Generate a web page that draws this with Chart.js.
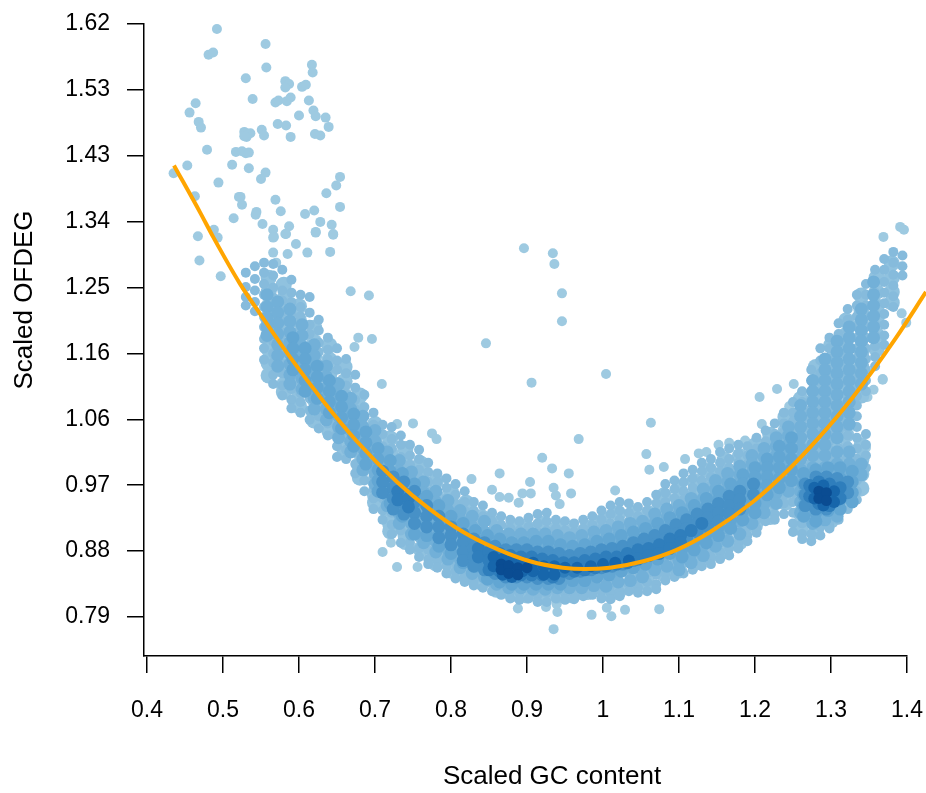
<!DOCTYPE html>
<html>
<head>
<meta charset="utf-8">
<script src="https://cdn.jsdelivr.net/npm/chart.js@4"></script>
<style>
  body { margin: 0; background: #fff; }
</style>
</head>
<body>
<canvas id="chart" width="926" height="793"></canvas>
<script>
const xTicks = [0.4, 0.5, 0.6, 0.7, 0.8, 0.9, 1, 1.1, 1.2, 1.3, 1.4];
const xTickLabels = ["0.4", "0.5", "0.6", "0.7", "0.8", "0.9", "1", "1.1", "1.2", "1.3", "1.4"];
const yTicks = [0.79, 0.8822, 0.9744, 1.0667, 1.1589, 1.2511, 1.3433, 1.4356, 1.5278, 1.62];
const yTickLabels = ["0.79", "0.88", "0.97", "1.06", "1.16", "1.25", "1.34", "1.43", "1.53", "1.62"];

// Fitted curve
const curveX = [0.4355, 0.47, 0.487, 0.522, 0.549, 0.588, 0.632, 0.676, 0.729, 0.772, 0.816, 0.861, 0.904, 0.947, 0.976, 1.009, 1.053, 1.097, 1.141, 1.197, 1.241, 1.284, 1.329, 1.385, 1.425];
const curveY = [1.422, 1.356, 1.322, 1.257, 1.214, 1.154, 1.092, 1.036, 0.979, 0.941, 0.909, 0.885, 0.868, 0.859, 0.857, 0.859, 0.868, 0.884, 0.909, 0.951, 0.993, 1.041, 1.098, 1.18, 1.245];

// Lone points away from the band, [x, y]
const loosePoints = [
  [.476,1.638],[.492,1.613],[.481,1.577],[.487,1.58],[.556,1.592],[.557,1.559],[.53,1.544],[.617,1.563],[.618,1.552],
  [.582,1.54],[.587,1.536],[.582,1.531],[.604,1.532],[.609,1.535],[.539,1.515],[.569,1.51],[.573,1.513],[.584,1.512],
  [.589,1.517],[.613,1.513],[.619,1.499],[.622,1.491],[.6,1.492],[.635,1.489],[.639,1.476],[.464,1.509],[.456,1.496],
  [.468,1.483],[.471,1.475],[.572,1.48],[.583,1.478],[.589,1.462],[.621,1.466],[.628,1.464],[.528,1.469],[.536,1.467],
  [.531,1.462],[.528,1.463],[.551,1.472],[.554,1.464],[.479,1.444],[.517,1.441],[.525,1.442],[.53,1.439],[.534,1.44],
  [.453,1.422],[.435,1.411],[.512,1.423],[.534,1.418],[.556,1.412],[.55,1.403],[.494,1.398],[.654,1.406],[.649,1.394],
  [.636,1.383],[.463,1.379],[.521,1.378],[.523,1.378],[.525,1.367],[.569,1.374],[.576,1.358],[.62,1.359],[.608,1.354],
  [.654,1.364],[.544,1.357],[.543,1.353],[.514,1.348],[.552,1.34],[.628,1.343],[.643,1.339],[.622,1.329],[.645,1.325],
  [.566,1.332],[.587,1.337],[.582,1.326],[.567,1.322],[.488,1.332],[.467,1.323],[.493,1.321],[.469,1.289],[.497,1.267],
  [.566,1.321],[.583,1.326],[.622,1.328],[.645,1.326],[.596,1.312],[.566,1.3],[.585,1.298],[.611,1.3],[.641,1.301],
  [.57,1.286],[.668,1.246],[.692,1.24],[.678,1.181],[.696,1.179],[.673,1.168],[.709,1.116],
  [.896,1.306],[.934,1.299],[.936,1.284],[.946,1.243],[.946,1.204],[.846,1.173],[.906,1.118],[1.004,1.13],[1.063,1.062],[.968,1.039],
  [1.425,1.418],[1.369,1.322],[1.391,1.336],[1.396,1.332],[1.411,1.33],[1.411,1.323],[1.414,1.306],[1.41,1.297],[1.418,1.288],[1.408,1.283],
  [1.393,1.215],[1.399,1.202],[1.368,1.123],
  [.729,1.06],[.75,1.061],[.775,1.047],[.781,1.039],[.92,1.013],[.933,.998],[.864,.991],[.827,.983],[.904,.979],[.955,.991],
  [.71,.881],[.729,.86],[.756,.86],[.721,.894],[.718,.907],[.888,.802],[.94,.797],[.935,.773],[.925,.804],[.939,.808],
  [.854,.968],[.864,.958],[.876,.957],[.889,.95],[.894,.963],[.905,.963],[.935,.971],[.938,.96],[.943,.948],
  [1.057,1.018],[1.061,.996],[1.08,1],[1.016,.967],[.958,.963],[1.108,1.011],[1.126,1.019],[1.136,1.021],[1.152,1.031],[1.166,1.034],[1.187,1.037],
  [1.074,.801],[1.029,.8],[1.011,.791],[.985,.793],[1.005,.803],
  [1.206,1.098],[1.229,1.109],[1.251,1.116],[1.209,1.06],[1.245,1.085],[1.348,1.098],[1.356,1.108],[1.368,1.122],[1.346,1.027],[1.335,.969]
];

// Band read column by column: first number is x, the rest are y values at that x
const bandFill = [
  [.56,1.265,1.245,1.225,1.205,1.185,1.165,1.145,1.128],[.58,1.255,1.235,1.215,1.195,1.175,1.155,1.135,1.115,1.105],
  [.6,1.225,1.205,1.185,1.165,1.145,1.125,1.105,1.085],[.62,1.195,1.175,1.155,1.135,1.115,1.095,1.075,1.065],
  [.64,1.17,1.15,1.13,1.11,1.09,1.07,1.05],[.66,1.14,1.12,1.1,1.08,1.06,1.04,1.02],
  [.68,1.1,1.08,1.06,1.04,1.02,1,.985],[.7,1.06,1.04,1.02,1,.98,.96,.95],
  [.72,1.04,1.02,1,.98,.96,.94,.92,.91],[.74,1.025,1.005,.985,.965,.945,.925,.905,.895],
  [.76,1.005,.985,.965,.945,.925,.905,.885],[.78,.98,.96,.94,.92,.9,.88,.865],
  [.8,.965,.945,.925,.905,.885,.865,.855],[.82,.95,.93,.91,.89,.87,.85,.846],
  [.84,.93,.91,.89,.87,.85,.838],[.86,.92,.9,.88,.86,.84,.828],
  [.88,.915,.895,.875,.855,.835,.822],[.9,.915,.895,.875,.855,.835,.82],
  [.92,.92,.9,.88,.86,.84,.818],[.94,.915,.895,.875,.855,.835,.82],
  [.96,.91,.89,.87,.85,.83,.82],[.98,.915,.895,.875,.855,.835,.825],
  [1,.925,.905,.885,.865,.845,.825],[1.02,.935,.915,.895,.875,.855,.835,.825],
  [1.04,.935,.915,.895,.875,.855,.835],[1.06,.935,.915,.895,.875,.855,.835],
  [1.08,.96,.94,.92,.9,.88,.86,.85],[1.1,.97,.95,.93,.91,.89,.87,.855],
  [1.12,.98,.96,.94,.92,.9,.88,.865],[1.14,.995,.975,.955,.935,.915,.895,.875],
  [1.16,1.01,.99,.97,.95,.93,.91,.89,.882],[1.18,1.015,.995,.975,.955,.935,.915,.895],
  [1.2,1.03,1.01,.99,.97,.95,.93,.918],[1.22,1.045,1.025,1.005,.985,.965,.945,.93],
  [1.24,1.07,1.05,1.03,1.01,.99,.97,.95],[1.26,1.095,1.075,1.055,1.035,1.015,.995,.975,.955,.935,.915],
  [1.28,1.14,1.12,1.1,1.08,1.06,1.04,1.02,1,.98,.96,.94,.92,.91],
  [1.3,1.17,1.15,1.13,1.11,1.09,1.07,1.05,1.03,1.01,.99,.97,.95,.93,.925],
  [1.32,1.205,1.185,1.165,1.145,1.125,1.105,1.085,1.065,1.045,1.025,1.005,.985,.965,.95],
  [1.34,1.24,1.22,1.2,1.18,1.16,1.14,1.12,1.1,1.03,1.01,.99,.97],
  [1.36,1.265,1.245,1.225,1.205,1.185,1.165],[1.38,1.285,1.265,1.245,1.23]
];
const bandOuter = [
  [.53,1.272,1.252,1.238,1.226],[.542,1.281,1.263,1.247,1.231,1.218],
  [.554,1.286,1.272,1.256,1.241,1.224,1.21,1.196,1.179,1.166,1.15],
  [.566,1.284,1.268,1.251,1.237,1.221,1.203,1.19,1.176,1.159,1.146,1.129,1.116],
  [.578,1.276,1.247,1.233,1.217,1.204,1.188,1.175,1.161,1.144,1.131,1.114,1.1],
  [.59,1.262,1.244,1.231,1.214,1.201,1.186,1.169,1.156,1.139,1.126,1.109,1.094,1.082],
  [.602,1.241,1.224,1.211,1.194,1.181,1.164,1.151,1.134,1.121,1.104,1.091,1.076],
  [.614,1.238,1.216,1.199,1.186,1.169,1.156,1.139,1.126,1.109,1.096,1.079,1.066],
  [.626,1.206,1.191,1.174,1.161,1.144,1.131,1.114,1.101,1.084,1.071,1.054],
  [.638,1.181,1.164,1.151,1.134,1.121,1.104,1.091,1.074,1.061,1.044],
  [.65,1.166,1.149,1.136,1.119,1.106,1.089,1.076,1.059,1.046,1.029,1.014],
  [.662,1.151,1.131,1.114,1.101,1.084,1.071,1.054,1.041,1.024,1.011],
  [.674,1.129,1.111,1.094,1.081,1.064,1.051,1.034,1.021,1.004,.991],
  [.686,1.101,1.084,1.071,1.054,1.041,1.024,1.011,.994,.981,.966],
  [.698,1.076,1.059,1.046,1.029,1.016,.999,.986,.969,.956,.941],
  [.71,1.059,1.046,1.029,1.016,.999,.986,.969,.956,.939,.926],
  [.722,1.056,1.039,1.026,1.009,.996,.979,.966,.949,.936,.919,.906],
  [.734,1.044,1.031,1.014,1.001,.984,.971,.954,.941,.924,.911,.894],
  [.746,1.031,1.016,1.003,.989,.976,.961,.949,.934,.921,.906,.894,.884],
  [.758,1.024,1.011,.996,.984,.969,.956,.941,.929,.914,.901,.886,.874],
  [.77,1.006,.993,.979,.966,.951,.939,.924,.911,.896,.884,.871,.864],
  [.782,.991,.979,.964,.951,.936,.924,.909,.896,.881,.869,.859],
  [.794,.984,.971,.956,.944,.929,.916,.901,.889,.874,.861,.851],
  [.806,.976,.961,.949,.934,.921,.906,.894,.879,.866,.854,.844],
  [.818,.966,.951,.939,.924,.911,.896,.884,.871,.859,.846,.839],
  [.83,.951,.939,.926,.914,.901,.889,.876,.864,.851,.841,.834],
  [.842,.946,.931,.919,.906,.894,.881,.869,.856,.844,.831],
  [.854,.936,.924,.911,.899,.886,.874,.861,.849,.836,.826],
  [.866,.931,.919,.906,.894,.881,.869,.856,.844,.831,.821],
  [.878,.926,.914,.901,.889,.876,.864,.851,.839,.826,.816],
  [.89,.924,.911,.899,.886,.874,.861,.849,.836,.824,.814],
  [.902,.929,.916,.904,.891,.879,.866,.854,.841,.829,.816],
  [.914,.934,.921,.909,.896,.884,.871,.859,.846,.834,.821,.811],
  [.926,.936,.924,.911,.899,.886,.874,.861,.849,.836,.824,.811],
  [.938,.926,.914,.901,.889,.876,.864,.851,.839,.826,.816],
  [.95,.924,.911,.899,.886,.874,.861,.849,.836,.824,.814],
  [.962,.921,.909,.896,.884,.871,.859,.846,.834,.821,.815],
  [.974,.926,.914,.901,.889,.876,.864,.851,.839,.826,.819],
  [.986,.931,.919,.906,.894,.881,.869,.856,.844,.831,.821],
  [.998,.939,.926,.914,.901,.889,.876,.864,.851,.839,.826,.816],
  [1.01,.946,.934,.921,.909,.896,.884,.871,.859,.846,.834,.824,.815],
  [1.022,.951,.939,.926,.914,.901,.889,.876,.864,.851,.839,.826,.819],
  [1.034,.949,.936,.924,.911,.899,.886,.874,.861,.849,.836,.826],
  [1.046,.944,.931,.919,.906,.894,.881,.869,.856,.844,.831,.824],
  [1.058,.951,.939,.926,.914,.901,.889,.876,.864,.851,.839,.826],
  [1.07,.961,.949,.936,.924,.911,.899,.886,.874,.861,.849,.836,.829],
  [1.082,.976,.964,.951,.939,.926,.914,.901,.889,.876,.864,.851,.841],
  [1.094,.981,.969,.956,.944,.931,.919,.906,.894,.881,.869,.856,.846],
  [1.106,.991,.979,.966,.954,.941,.929,.916,.904,.891,.879,.866,.851],
  [1.118,.996,.984,.971,.959,.946,.934,.921,.909,.896,.884,.871,.856],
  [1.13,1.006,.994,.981,.969,.956,.944,.931,.919,.906,.894,.881,.869,.861],
  [1.142,1.011,.999,.986,.974,.961,.949,.936,.924,.911,.899,.886,.874,.864],
  [1.154,1.021,1.006,.994,.981,.969,.956,.944,.931,.919,.906,.894,.881,.871],
  [1.166,1.026,1.011,.999,.986,.974,.961,.949,.936,.924,.911,.899,.886,.876],
  [1.178,1.031,1.019,1.006,.994,.981,.969,.956,.944,.931,.919,.906,.894,.886],
  [1.19,1.029,1.016,1.004,.991,.979,.966,.954,.941,.929,.916,.904,.896],
  [1.202,1.041,1.026,1.014,1.001,.989,.976,.964,.951,.939,.926,.914,.908],
  [1.214,1.051,1.036,1.024,1.011,.999,.986,.974,.961,.949,.936,.924],
  [1.226,1.061,1.046,1.034,1.021,1.009,.996,.984,.971,.959,.946,.934,.926],
  [1.238,1.076,1.061,1.049,1.036,1.024,1.011,.999,.986,.974,.961,.949,.934],
  [1.25,1.091,1.076,1.064,1.051,1.039,1.026,1.014,1.001,.989,.976,.964,.951,.936,.921,.909],
  [1.262,1.106,1.091,1.079,1.066,1.054,1.041,1.029,1.016,1.004,.991,.979,.966,.951,.936,.921,.906,.899],
  [1.274,1.136,1.121,1.106,1.094,1.081,1.069,1.056,1.044,1.031,1.019,1.006,.994,.979,.964,.949,.934,.921,.906,.896],
  [1.286,1.166,1.149,1.131,1.119,1.106,1.094,1.081,1.069,1.056,1.044,1.031,1.019,1.006,.991,.976,.961,.946,.931,.916,.904],
  [1.298,1.181,1.166,1.151,1.136,1.124,1.111,1.099,1.086,1.074,1.061,1.049,1.036,1.024,1.011,.996,.981,.966,.951,.936,.921,.914],
  [1.31,1.201,1.186,1.171,1.156,1.141,1.126,1.114,1.101,1.089,1.076,1.064,1.051,1.039,1.026,1.011,.996,.981,.966,.951,.936,.926],
  [1.322,1.221,1.206,1.191,1.176,1.161,1.146,1.131,1.119,1.106,1.094,1.081,1.069,1.056,1.044,1.029,1.014,.999,.984,.969,.954,.941],
  [1.334,1.241,1.226,1.211,1.196,1.181,1.166,1.151,1.136,1.124,1.111,1.099,1.086,1.071,1.056,1.041,1.026,1.011,.996,.981,.966,.954],
  [1.346,1.256,1.241,1.226,1.211,1.196,1.181,1.166,1.151,1.136,1.121,1.106,1.046,1.031,1.016,.999],
  [1.358,1.276,1.259,1.244,1.229,1.214,1.199,1.184,1.169,1.154,1.141],
  [1.37,1.291,1.276,1.259,1.244,1.229,1.214,1.199,1.184,1.171],
  [1.382,1.301,1.286,1.269,1.254,1.239,1.224],[1.394,1.296,1.281,1.268]
];
const bandLight = [
  [.558,1.241,1.224,1.209,1.196,1.184],[.572,1.231,1.216,1.201,1.186,1.171,1.156,1.141],
  [.588,1.221,1.204,1.189,1.174,1.159,1.144,1.129,1.116],[.604,1.199,1.184,1.169,1.154,1.139,1.124,1.109],
  [.62,1.171,1.156,1.141,1.126,1.111,1.096,1.081],[.636,1.141,1.126,1.111,1.096,1.081,1.066],
  [.652,1.116,1.101,1.086,1.071,1.056,1.041],[.668,1.096,1.081,1.066,1.051,1.036,1.021],
  [.684,1.071,1.056,1.041,1.026,1.011,.996],[.7,1.051,1.036,1.021,1.006,.991,.976],
  [.716,1.021,1.006,.991,.976,.961,.946],[.732,1.009,.994,.979,.964,.949,.934,.921],
  [.748,.993,.979,.964,.949,.934,.921,.906],[.764,.979,.964,.949,.934,.919,.906,.894],
  [.78,.966,.951,.936,.921,.909,.896,.881],[.796,.953,.939,.926,.911,.899,.884,.871],
  [.812,.939,.926,.911,.899,.884,.871,.859],[.828,.931,.916,.904,.889,.876,.864,.851],
  [.844,.924,.909,.896,.884,.871,.859,.846],[.86,.911,.899,.886,.874,.861,.849,.836],
  [.876,.906,.894,.881,.869,.856,.844,.831],[.892,.906,.894,.881,.869,.856,.844,.831],
  [.908,.906,.894,.881,.869,.856,.844,.829],[.924,.906,.894,.881,.869,.856,.844,.829],
  [.94,.904,.891,.879,.866,.854,.841,.831],[.956,.901,.889,.876,.864,.851,.839,.831],
  [.972,.904,.891,.879,.866,.854,.841,.831],[.988,.909,.896,.884,.871,.859,.846,.834],
  [1.004,.911,.899,.886,.874,.861,.849,.833],[1.02,.916,.904,.891,.879,.866,.854,.839],
  [1.036,.921,.909,.896,.884,.871,.859,.841],[1.052,.924,.911,.899,.886,.874,.861,.846],
  [1.068,.934,.921,.909,.896,.884,.871,.856],[1.084,.941,.929,.916,.904,.891,.879,.861],
  [1.1,.946,.934,.921,.909,.896,.884,.869,.856],[1.116,.956,.944,.931,.919,.906,.894,.879,.866],
  [1.132,.969,.956,.944,.931,.919,.906,.891,.876],[1.148,.981,.969,.956,.944,.931,.919,.904,.889],
  [1.164,.991,.979,.966,.954,.941,.929,.914,.896],[1.18,1.001,.989,.976,.964,.951,.939,.924,.906],
  [1.196,1.016,1.004,.991,.979,.966,.954,.939,.921],[1.212,1.026,1.014,1.001,.989,.976,.964,.949,.936],
  [1.228,1.041,1.029,1.016,1.004,.991,.979,.964,.949],[1.244,1.056,1.044,1.031,1.019,1.006,.994,.979,.966],
  [1.26,1.086,1.071,1.056,1.041,1.026,1.011,.996,.981,.966,.951,.936],[1.276,1.121,1.106,1.091,1.076,1.061,1.046,1.031,1.016,.999,.981,.966,.951,.936,.921],
  [1.292,1.151,1.136,1.121,1.106,1.091,1.076,1.061,1.046,1.031,1.016,.999,.984,.969,.954,.939,.926],
  [1.308,1.176,1.161,1.146,1.131,1.116,1.101,1.086,1.071,1.056,1.041,1.021,1.004,.989,.974,.959,.944,.931],
  [1.324,1.196,1.181,1.166,1.151,1.136,1.121,1.106,1.091,1.076,1.06,1.021,1.004,.989,.974,.959],
  [1.34,1.221,1.206,1.191,1.176,1.161,1.146,1.131,1.116,1.004,.989],[1.356,1.259,1.241,1.226,1.211,1.196,1.181]
];
const bandMid = [
  [.592,1.181,1.166,1.151,1.136],[.608,1.166,1.151,1.136,1.121,1.106],[.624,1.141,1.126,1.111,1.096],
  [.64,1.121,1.106,1.091,1.076],[.656,1.099,1.084,1.069,1.054],[.672,1.074,1.059,1.044,1.029],
  [.688,1.049,1.034,1.019,1.004],[.704,1.026,1.011,.996,.981,.966],[.72,1.009,.994,.979,.964,.949],
  [.736,.991,.976,.961,.946,.931],[.752,.976,.961,.946,.934,.921,.906],[.768,.959,.946,.931,.919,.904],
  [.784,.946,.931,.919,.904,.889],[.8,.931,.919,.906,.891,.879],[.816,.921,.906,.894,.881,.866],
  [.832,.911,.899,.886,.874,.861],[.848,.904,.891,.879,.866,.854,.843],[.864,.899,.886,.874,.861,.849,.839],
  [.88,.894,.881,.869,.856,.844,.836],[.896,.894,.881,.869,.856,.844,.836],[.912,.896,.884,.871,.859,.846,.836],
  [.928,.896,.884,.871,.859,.846,.836],[.944,.891,.879,.866,.854,.841,.836],[.96,.889,.876,.864,.851,.841],
  [.976,.891,.879,.866,.854,.841],[.992,.896,.884,.871,.859,.846],[1.008,.899,.886,.874,.861,.849],
  [1.024,.904,.891,.879,.866,.854],[1.04,.909,.896,.884,.871,.859],[1.056,.914,.901,.889,.876,.864],
  [1.072,.921,.909,.896,.884,.871],[1.088,.929,.916,.904,.891,.879],[1.104,.936,.924,.911,.899,.886,.874],
  [1.12,.946,.934,.921,.909,.896,.884],[1.136,.956,.944,.931,.919,.906,.894],[1.152,.966,.954,.941,.929,.916,.904],
  [1.168,.976,.964,.951,.939,.926,.914],[1.184,.989,.976,.964,.951,.939,.926],[1.2,.999,.986,.974,.961,.949,.936],
  [1.216,1.011,.999,.986,.974,.961],[1.232,1.029,1.014,.999,.984,.971],[1.248,1.041,1.026,1.011,.996,.981],
  [1.264,.991,.976,.961,.946,.931],[1.28,.996,.981,.966,.951,.936,.924],[1.296,.999,.984,.969,.954,.939],
  [1.312,.999,.984,.969,.954,.941],[1.328,.994,.979,.964,.951]
];
const bandDeep = [
  [.71,.994,.979,.964],[.724,.986,.971,.956,.941],[.738,.979,.964,.949,.934],[.752,.966,.951,.936,.921],
  [.768,.946,.931,.916],[.784,.931,.916,.901],[.8,.916,.904,.891],[.816,.906,.894,.881,.869],
  [.83,.899,.886,.874,.861],[.844,.894,.881,.869,.856],[.858,.889,.876,.864,.851],[.872,.884,.871,.859,.846],
  [.886,.884,.871,.859,.846],[.9,.884,.871,.859,.846],[.914,.881,.869,.856,.844],[.928,.881,.869,.856,.844],
  [.942,.879,.866,.854,.844],[.956,.876,.864,.851],[.97,.879,.866,.854],[.984,.881,.869,.856],
  [.998,.884,.871,.859],[1.012,.886,.874,.861],[1.026,.889,.876,.864],[1.04,.894,.881,.869],
  [1.054,.899,.886,.874],[1.068,.904,.891,.879],[1.082,.911,.899,.886],[1.096,.919,.906,.894],
  [1.11,.926,.914,.901],[1.124,.934,.921,.909],[1.138,.941,.929,.916],[1.152,.949,.936,.924],
  [1.166,.959,.946,.934],[1.18,.966,.954,.941],[1.198,.976,.961],
  [1.266,.976,.961,.946],[1.28,.986,.971,.956,.941],[1.294,.986,.971,.956,.941],[1.308,.984,.969,.954],[1.322,.979,.964]
];
const bandDark = [
  [.73,.966,.954],[.744,.956,.944],[.836,.886,.874],[.85,.881,.869,.856],[.864,.879,.866,.854],[.878,.876,.864,.851],
  [.892,.874,.861,.849],[.906,.874,.861,.849],[.92,.871,.859,.849],[.934,.869,.856,.846],[.948,.866,.854],
  [.962,.866,.854],[.976,.869,.856],[.99,.871,.859],[1.004,.874,.861],[1.018,.874,.864],[1.032,.879,.866],
  [1.046,.884,.871],[1.06,.886,.876],[1.074,.891,.879],[1.088,.899,.886],[1.102,.904,.894],[1.116,.911],[1.13,.921],
  [1.272,.974,.959],[1.284,.979,.964,.949],[1.298,.976,.961,.946],[1.312,.971,.956]
];
const bandDarker = [
  [.856,.874,.861],[.868,.871,.859,.849],[.88,.869,.856,.846],[.894,.866,.854],[.908,.866,.854],[.922,.861,.849],
  [.936,.861,.849],[.95,.859],[.966,.859],[.984,.861],[1,.864],[1.016,.866],[1.034,.869],
  [1.278,.971,.956],[1.29,.974,.959,.946],[1.304,.966,.951]
];
const bandCore = [
  [.866,.864,.856],[.876,.862,.851],[.888,.859,.849],[.9,.859],[1.284,.966,.956],[1.294,.964,.953]
];

const pointColors = ["#9ecae1", "#86bbdc", "#72b0d8", "#62a6d3", "#4791c7", "#2f7ebc", "#1766ab", "#0a4c92", "#073a75"];
const layerRadius = [5, 6.5, 6.5, 6.5, 6.5, 6, 5.5];

const bandLayers = [bandOuter, bandLight, bandMid, bandDeep, bandDark, bandDarker, bandCore];

// Turn [x, y, y, ...] columns into chart points
function columnsToPoints(columns) {
  return columns.flatMap(col => col.slice(1).map(y => ({ x: col[0], y: y })));
}

const datasets = [];
datasets.push({
  data: curveX.map((x, i) => ({ x: x, y: curveY[i] })),
  showLine: true,
  borderColor: "#ffa500",
  borderWidth: 4,
  pointRadius: 0,
  cubicInterpolationMode: "monotone",
  clip: false,
  order: 0
});
datasets.push({
  data: loosePoints.map(p => ({ x: p[0], y: p[1] })),
  backgroundColor: pointColors[0],
  borderWidth: 0,
  pointRadius: 5,
  clip: false,
  order: 10
});
// Wider marks behind the band so no white shows through it
datasets.push({
  data: columnsToPoints(bandFill),
  backgroundColor: "#90c2df",
  borderWidth: 0,
  pointRadius: 8,
  clip: false,
  order: 9
});
bandLayers.forEach((layer, i) => {
  datasets.push({
    data: columnsToPoints(layer),
    backgroundColor: pointColors[i + 1],
    borderWidth: 0,
    pointRadius: layerRadius[i],
    clip: false,
    order: 8 - i
  });
});

// The axis titles are not centred on the plot area, so place them by hand
const axisTitles = {
  id: "axisTitles",
  afterDraw(chart) {
    const ctx = chart.ctx;
    ctx.save();
    ctx.fillStyle = "#000";
    ctx.font = "26px 'Liberation Sans'";
    ctx.textAlign = "center";
    ctx.textBaseline = "middle";
    ctx.fillText("Scaled GC content", 552, 777);
    ctx.translate(25, 300);
    ctx.rotate(-Math.PI / 2);
    ctx.fillText("Scaled OFDEG", 0, 0);
    ctx.restore();
  }
};

new Chart(document.getElementById("chart"), {
  type: "scatter",
  data: { datasets: datasets },
  plugins: [axisTitles],
  options: {
    responsive: false,
    animation: false,
    layout: { padding: { top: 24, left: 0, right: 19, bottom: 0 } },
    plugins: { legend: { display: false }, tooltip: { enabled: false } },
    scales: {
      x: {
        type: "linear",
        min: 0.39605,
        max: 1.4,
        afterBuildTicks: scale => { scale.ticks = xTicks.map(v => ({ value: v })); },
        afterFit: scale => {
          scale.height = 137;
          scale.paddingLeft = 0;
          scale.paddingRight = 0;
        },
        border: { color: "#000", width: 1.5 },
        grid: { drawOnChartArea: false, drawTicks: true, tickLength: 17, color: "#000", lineWidth: 1.5 },
        ticks: {
          color: "#000",
          padding: 24,
          maxRotation: 0,
          autoSkip: false,
          font: { family: "'Liberation Sans'", size: 23 },
          callback: (v, i) => xTickLabels[i]
        }
      },
      y: {
        type: "linear",
        min: 0.7354,
        max: 1.62,
        afterBuildTicks: scale => { scale.ticks = yTicks.map(v => ({ value: v })); },
        afterFit: scale => {
          scale.width = 144;
          scale.paddingTop = 0;
          scale.paddingBottom = 0;
        },
        border: { color: "#000", width: 1.5 },
        grid: { drawOnChartArea: false, drawTicks: true, tickLength: 17, color: "#000", lineWidth: 1.5 },
        ticks: {
          color: "#000",
          padding: 17,
          autoSkip: false,
          font: { family: "'Liberation Sans'", size: 23 },
          callback: (v, i) => yTickLabels[i]
        }
      }
    }
  }
});
</script>
</body>
</html>
